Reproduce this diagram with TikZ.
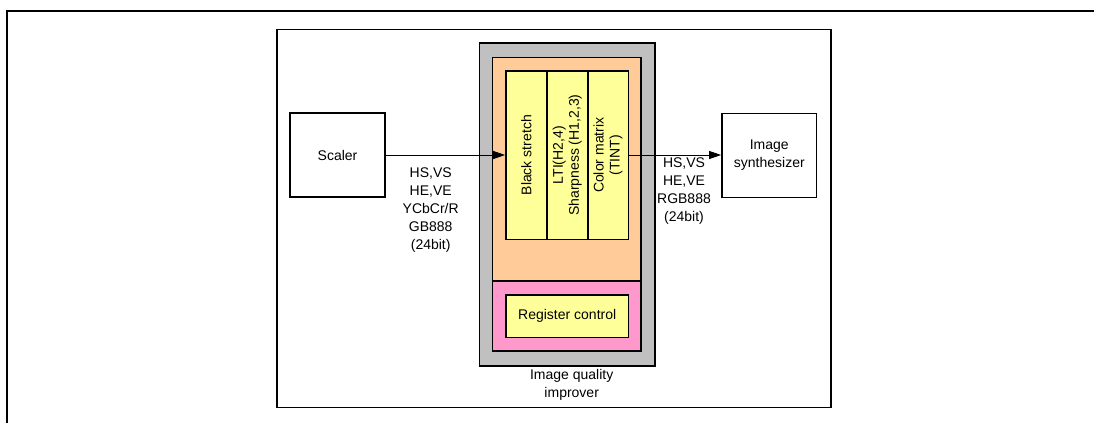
\documentclass[tikz,border=0pt]{standalone}
\usepackage{fontspec}
\setmainfont{Liberation Sans}
\usetikzlibrary{arrows.meta}
\definecolor{grayfill}{RGB}{192,192,192}
\definecolor{orangefill}{RGB}{255,204,153}
\definecolor{pinkfill}{RGB}{255,153,204}
\definecolor{yellowfill}{RGB}{255,255,153}
\tikzset{
  box/.style={draw, line width=1.6pt, inner sep=0pt, font=\fontsize{14}{18}\selectfont, align=center},
  wbox/.style={box, fill=white},
  ybox/.style={box, fill=yellowfill},
  lbl/.style={inner sep=0pt, font=\fontsize{14}{18}\selectfont, align=center},
  conn/.style={line width=0.9pt, -{Triangle[length=12pt,width=8pt]}}
}
\begin{document}
\begin{tikzpicture}[x=1pt,y=-1pt]
\useasboundingbox (0,0) rectangle (1094,423);
% outer frame (cropped)
\coordinate (ofA) at (7,423);
\coordinate (ofB) at (7,11);
\coordinate (ofC) at (1094,11);
\draw[line width=2pt] (ofA) -- (ofB) -- (ofC);
% inner frame
\node[draw, line width=1.6pt, minimum width=554pt, minimum height=378pt, inner sep=0pt] (frame) at (553.7,218.3) {};
% scaler
\node[wbox, minimum width=95pt, minimum height=84pt] (scaler) at (337.5,155.2) {Scaler};
% image synthesizer
\node[wbox, minimum width=94.7pt, minimum height=84pt] (synth) at (769.3,155.3) {Image\\synthesizer};
% image quality improver
\node[box, fill=grayfill, minimum width=175.7pt, minimum height=323pt] (iqi) at (567.2,204.2) {};
\node[box, fill=orangefill, minimum width=148.3pt, minimum height=223.7pt] (orange) at (566.8,169.2) {};
\node[box, fill=pinkfill, minimum width=148.3pt, minimum height=70pt] (pink) at (566.8,316) {};
\node[ybox, minimum width=122.3pt, minimum height=42.3pt] (reg) at (567.2,316.2) {Register control};
\node[ybox, minimum width=40.7pt, minimum height=168.3pt] (c1) at (526.3,155.2) {};
\node[ybox, minimum width=41pt, minimum height=168.3pt] (c2) at (567.2,155.2) {};
\node[ybox, minimum width=40.6pt, minimum height=168.3pt] (c3) at (608,155.2) {};
\node[lbl, rotate=90] (t1) at (c1) {Black stretch};
\node[lbl, rotate=90, font=\fontsize{14}{16}\selectfont] (t2) at (c2) {LTI(H2,4)\\Sharpness (H1,2,3)};
\node[lbl, rotate=90, font=\fontsize{14}{16}\selectfont] (t3) at (c3) {Color matrix\\(TINT)};
\node[lbl] (iqilbl) at (571.7,385) {Image quality\\improver};
% connectors
\draw[conn] (scaler.east |- 0,155) -- (c1.west |- 0,155);
\draw[conn] (c3.east |- 0,155) -- (synth.west |- 0,155);
\node[lbl] (inlbl) at (430.7,210.5) {HS,VS\\HE,VE\\YCbCr/R\\GB888\\(24bit)};
\node[lbl] (outlbl) at (684,191.5) {HS,VS\\HE,VE\\RGB888\\(24bit)};
\end{tikzpicture}
\end{document}
